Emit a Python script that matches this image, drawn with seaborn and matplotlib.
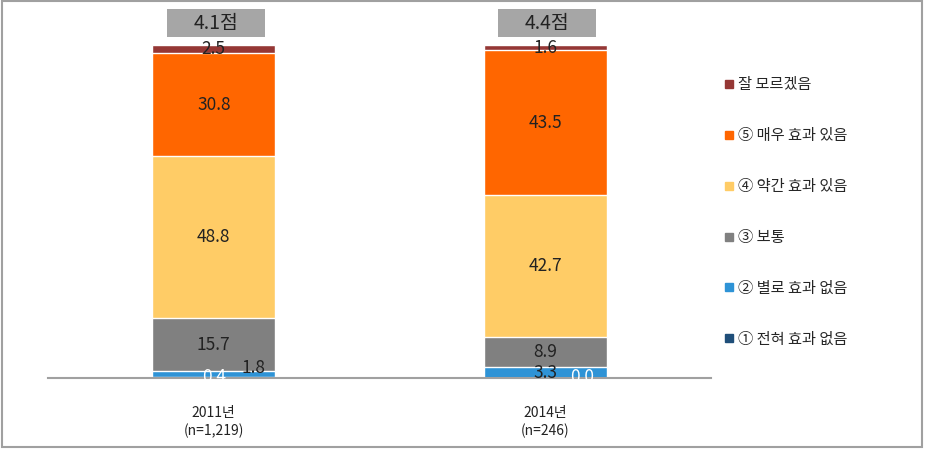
import matplotlib
matplotlib.use("Agg")
import matplotlib.pyplot as plt
from matplotlib.patches import Rectangle
from matplotlib.lines import Line2D
import seaborn as sns
import pandas as pd
import numpy as np

sns.set_theme(style="white")
plt.rcParams['font.family'] = ['Noto Sans CJK KR', 'DejaVu Sans']

# ---- data ----
categories = ['2011년\n(n=1,219)', '2014년\n(n=246)']
series_names = ['① 전혀 효과 없음', '② 별로 효과 없음', '③ 보통',
                '④ 약간 효과 있음', '⑤ 매우 효과 있음', '잘 모르겠음']
v1 = [0.4, 0.0]      # ① 전혀 효과 없음
v2 = [1.8, 3.3]      # ② 별로 효과 없음
v3 = [15.7, 8.9]     # ③ 보통
v4 = [48.8, 42.7]    # ④ 약간 효과 있음
v5 = [30.8, 43.5]    # ⑤ 매우 효과 있음
v6 = [2.5, 1.6]      # 잘 모르겠음
scores = ['4.1점', '4.4점']

colors = ['#1F4E79', '#2E93D6', '#808080', '#FFCC66', '#FF6600', '#953735']

values = [v1, v2, v3, v4, v5, v6]
cum = np.cumsum(np.array(values), axis=0)

fig = plt.figure(figsize=(9.26, 4.54), dpi=100)
ax = fig.add_axes([48/926, (454-378)/454, 663/926, 333/454])

bw = 0.371
# draw cumulative bars, tallest first
for i in range(len(values)-1, -1, -1):
    df = pd.DataFrame({'cat': categories, 'val': cum[i]})
    sns.barplot(data=df, x='cat', y='val', color=colors[i], saturation=1,
                width=bw, edgecolor='white', linewidth=1.0, ax=ax,
                order=categories)

ax.set_xlim(-0.5, 1.5)
ax.set_ylim(0, 100)
ax.set_xlabel('')
ax.set_ylabel('')
ax.set_yticks([])
for s in ['left', 'right', 'top']:
    ax.spines[s].set_visible(False)
ax.spines['bottom'].set_color('#A0A0A0')
ax.spines['bottom'].set_linewidth(1.5)
ax.tick_params(axis='x', length=0, pad=20, labelsize=10, labelcolor='#222222')
for lbl in ax.get_xticklabels():
    lbl.set_linespacing(1.35)

# value labels
fs = 12.5
for j in range(2):
    bottoms = np.concatenate([[0], cum[:, j]])
    for i in range(len(values)):
        v = values[i][j]
        mid = (bottoms[i] + bottoms[i+1]) / 2
        if i == 0:
            # ① tiny white label
            if j == 0:
                ax.text(j, mid, f'{v:.1f}', ha='center', va='center',
                        fontsize=fs, color='white', clip_on=False)
            else:
                ax.text(j + 0.11, mid + 0.2, f'{v:.1f}', ha='center', va='center',
                        fontsize=fs, color='white', clip_on=False)
        elif i == 1 and j == 0:
            ax.text(j + 0.12, mid + 1.6, f'{v:.1f}', ha='center', va='center',
                    fontsize=fs, color='#222222')
        else:
            ax.text(j, mid, f'{v:.1f}', ha='center', va='center',
                    fontsize=fs, color='#222222')

# score boxes
for j in range(2):
    ax.add_patch(Rectangle((j - 0.142, 102.4), 0.296, 8.4, facecolor='#A6A6A6',
                           edgecolor='none', clip_on=False))
    ax.text(j + 0.006, 106.6, scores[j], ha='center', va='center', fontsize=14,
            color='#222222', clip_on=False)

# legend
order = [5, 4, 3, 2, 1, 0]
handles = [Line2D([0], [0], marker='s', linestyle='none', markersize=6,
                  markerfacecolor=colors[i], markeredgecolor=colors[i]) for i in order]
labels = [series_names[i] for i in order]
leg = fig.legend(handles, labels, loc='upper left', bbox_to_anchor=(718/926, 1 - 70/454),
                 frameon=False, fontsize=11, handlelength=0.6, handletextpad=0.3,
                 labelspacing=2.22, borderaxespad=0)

# figure border
fig.patches.append(Rectangle((1.5/926, 1 - 447/454), 920/926, 446/454,
                             transform=fig.transFigure, fill=False,
                             edgecolor='#A0A0A0', linewidth=1.5))

fig.savefig('out.png', dpi=100)
